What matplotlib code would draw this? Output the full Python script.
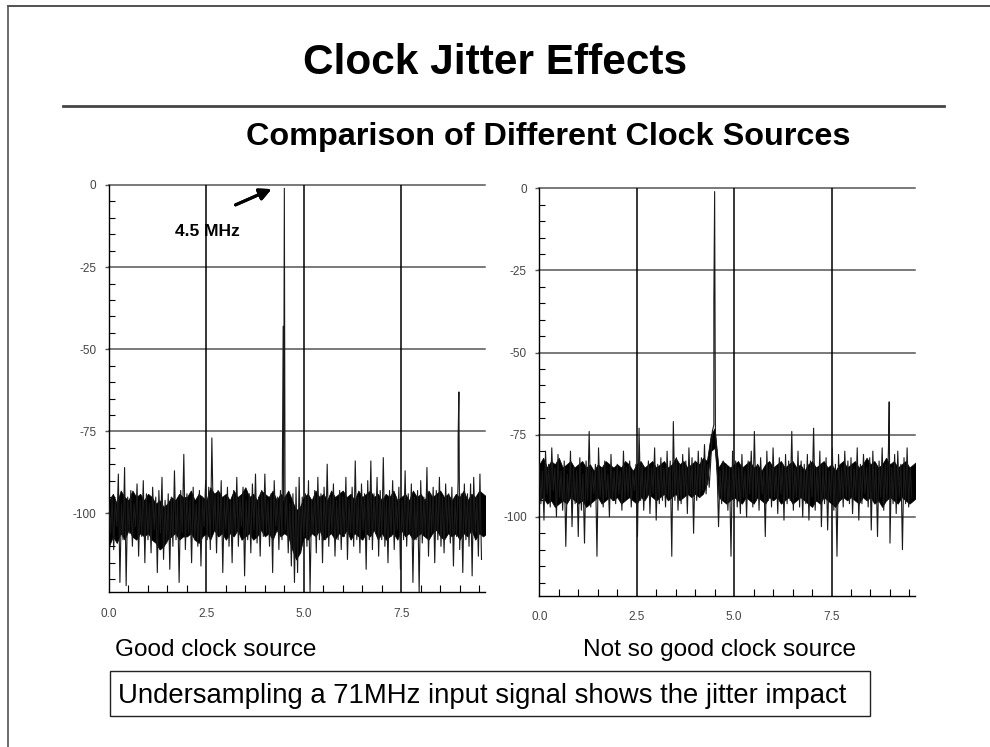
import numpy as np
import matplotlib.pyplot as plt
from matplotlib.ticker import MultipleLocator
from matplotlib.lines import Line2D
from matplotlib.patches import Rectangle

plt.rcParams["font.family"] = ["Liberation Sans", "DejaVu Sans"]

# FFT output (dBFS), one value every 0.04 MHz
good_noise = [
    -97, -106, -95, -111, -96, -104, -88, -121, -97, -108,
    -86, -122, -95, -106, -93, -110, -97, -104, -91, -113,
    -96, -107, -90, -115, -94, -108, -97, -112, -92, -105,
    -95, -118, -93, -106, -89, -114, -96, -109, -94, -117,
    -95, -110, -87, -108, -96, -121, -93, -106, -82, -111,
    -94, -106, -96, -115, -92, -108, -97, -110, -93, -116,
    -95, -104, -90, -108, -92, -111, -77, -105, -94, -112,
    -93, -107, -90, -118, -95, -105, -92, -110, -96, -115,
    -93, -106, -89, -110, -95, -104, -92, -119, -96, -108,
    -94, -112, -91, -105, -88, -109, -95, -113, -93, -107,
    -88, -106, -96, -110, -94, -118, -90, -104, -95, -111,
    -93, -108, -96, -105, -95, -112, -97, -116, -94, -121,
    -92, -118, -89, -112, -95, -107, -94, -110, -90, -124,
    -96, -106, -93, -112, -89, -108, -94, -115, -92, -108,
    -85, -110, -95, -106, -91, -113, -96, -108, -93, -111,
    -95, -107, -89, -114, -96, -106, -92, -110, -84, -108,
    -95, -112, -91, -105, -94, -117, -90, -108, -84, -111,
    -94, -106, -89, -113, -93, -108, -83, -110, -96, -115,
    -93, -107, -90, -111, -95, -105, -92, -117, -96, -108,
    -87, -110, -94, -106, -91, -121, -95, -108, -93, -124,
    -90, -109, -95, -107, -86, -113, -94, -106, -92, -115,
    -93, -108, -89, -110, -95, -112, -91, -106, -94, -109,
    -92, -116, -95, -107, -90, -111, -94, -118, -91, -108,
    -94, -110, -91, -119, -89, -106, -95, -113, -88, -114,
]
good_spur_freq = [4.47, 4.50, 8.96, 8.98]
good_spur_level = [-43, -1, -77, -63]

# solid black part of the noise floor, top and bottom edge every 0.1 MHz
good_core_hi = [
    -96, -94, -97, -93, -95, -96, -93, -95, -94, -96,
    -94, -95, -97, -96, -98, -97, -95, -96, -94, -95,
    -95, -93, -96, -94, -95, -96, -92, -94, -93, -95,
    -94, -96, -93, -95, -94, -92, -95, -94, -96, -93,
    -94, -95, -93, -96, -94, -95, -93, -96, -99, -98,
    -95, -94, -96, -93, -95, -94, -96, -93, -95, -94,
    -93, -95, -94, -96, -93, -95, -94, -93, -95, -94,
    -96, -94, -95, -93, -96, -95, -94, -96, -93, -95,
    -94, -96, -93, -95, -94, -93, -95, -94, -96, -94,
    -95, -93, -96, -94, -95, -93, -94, -95,
]
good_core_lo = [
    -110, -107, -109, -106, -108, -105, -107, -108, -106, -107,
    -106, -108, -109, -111, -110, -108, -107, -106, -108, -107,
    -107, -106, -108, -109, -107, -106, -108, -105, -107, -106,
    -108, -106, -107, -105, -108, -107, -106, -108, -107, -105,
    -107, -106, -108, -105, -107, -106, -107, -111, -114, -112,
    -107, -108, -106, -107, -105, -108, -107, -106, -108, -106,
    -107, -105, -108, -106, -107, -108, -106, -107, -105, -108,
    -106, -108, -107, -106, -108, -105, -107, -106, -108, -107,
    -106, -107, -108, -106, -105, -107, -108, -106, -107, -106,
    -108, -106, -107, -105, -108, -106, -107, -106,
]

poor_noise = [
    -84, -96, -86, -101, -80, -93, -84, -97, -79, -92,
    -85, -100, -81, -94, -86, -98, -83, -109, -87, -95,
    -80, -103, -85, -96, -86, -106, -82, -98, -87, -108,
    -83, -95, -74, -97, -86, -93, -84, -112, -79, -94,
    -85, -97, -83, -94, -87, -100, -81, -95, -86, -96,
    -84, -93, -86, -98, -80, -95, -85, -94, -83, -97,
    -86, -92, -84, -106, -73, -95, -84, -98, -86, -94,
    -83, -99, -85, -93, -79, -101, -84, -96, -82, -95,
    -85, -97, -80, -94, -83, -112, -71, -95, -82, -98,
    -84, -96, -81, -94, -83, -99, -79, -93, -82, -105,
    -83, -95, -80, -94, -82, -92, -78, -93, -84, -91,
    -83, -74, -72, -74, -84, -103, -86, -96, -83, -95,
    -84, -98, -85, -112, -80, -95, -83, -97, -85, -99,
    -81, -94, -86, -100, -83, -93, -80, -97, -74, -95,
    -84, -98, -82, -93, -86, -106, -80, -95, -84, -97,
    -79, -94, -85, -99, -82, -93, -84, -101, -81, -96,
    -83, -95, -74, -98, -85, -94, -80, -97, -83, -100,
    -84, -96, -81, -101, -83, -94, -73, -98, -85, -95,
    -80, -103, -84, -96, -82, -104, -86, -95, -79, -98,
    -84, -112, -81, -95, -85, -97, -80, -94, -83, -96,
    -82, -99, -85, -94, -79, -101, -84, -96, -81, -93,
    -85, -97, -82, -104, -80, -95, -84, -106, -83, -94,
    -79, -98, -84, -95, -80, -108, -85, -96, -81, -99,
    -80, -94, -84, -110, -82, -96, -79, -97, -85, -94,
]
poor_spur_freq = [4.48, 4.50, 8.98]
poor_spur_level = [-34, -1, -65]

poor_core_hi = [
    -84, -82, -85, -83, -84, -82, -85, -84, -83, -85,
    -84, -83, -85, -84, -86, -84, -85, -83, -84, -85,
    -84, -85, -83, -84, -86, -84, -83, -85, -84, -83,
    -85, -84, -83, -85, -84, -82, -84, -83, -85, -84,
    -83, -84, -82, -83, -75, -73, -85, -83, -84, -85,
    -84, -83, -85, -84, -83, -85, -84, -86, -84, -83,
    -85, -84, -83, -85, -84, -83, -85, -84, -86, -84,
    -83, -85, -84, -83, -85, -84, -86, -84, -83, -85,
    -84, -83, -85, -84, -82, -84, -83, -85, -84, -82,
    -84, -83, -85, -84, -83, -85, -84, -83,
]
poor_core_lo = [
    -95, -94, -96, -95, -97, -96, -95, -96, -94, -95,
    -96, -95, -97, -96, -95, -94, -96, -95, -94, -95,
    -94, -96, -95, -94, -95, -96, -94, -95, -93, -94,
    -95, -94, -93, -95, -94, -93, -95, -94, -93, -94,
    -93, -94, -93, -90, -80, -79, -94, -95, -96, -95,
    -94, -95, -96, -94, -95, -96, -94, -95, -96, -94,
    -95, -94, -96, -95, -94, -96, -95, -94, -95, -96,
    -97, -95, -96, -94, -95, -96, -97, -95, -94, -95,
    -94, -95, -96, -94, -95, -94, -96, -95, -97, -95,
    -94, -95, -96, -94, -95, -96, -95, -94,
]

bin_step = 0.04
core_step = 0.1
x_ticks = [0.0, 2.5, 5.0, 7.5]
x_labels = ["0.0", "2.5", "5.0", "7.5"]
y_ticks = [0, -25, -50, -75, -100]
y_labels = ["0", "-25", "-50", "-75", "-100"]

W, H = 990, 747
fig = plt.figure(figsize=(W / 100, H / 100), dpi=100)


def px(x, y):
    return x / W, 1 - y / H


def spectrum(noise, spur_f, spur_l):
    f = np.arange(len(noise)) * bin_step
    f = np.concatenate([f, spur_f])
    v = np.concatenate([noise, spur_l])
    order = np.argsort(f, kind="stable")
    return f[order], v[order]


def draw_panel(rect, noise, spur_f, spur_l, core_hi, core_lo):
    ax = fig.add_axes(rect)
    core_f = np.arange(len(core_hi)) * core_step
    ax.fill_between(core_f, core_lo, core_hi, color="black", lw=0.5, zorder=3)
    f, v = spectrum(noise, spur_f, spur_l)
    ax.plot(f, v, color="#1a1a1a", lw=0.8, zorder=3)
    ax.set_xlim(0, 9.65)
    ax.set_ylim(-124, 0)
    ax.set_xticks(x_ticks, x_labels)
    ax.set_yticks(y_ticks, y_labels)
    ax.xaxis.set_minor_locator(MultipleLocator(0.5))
    ax.yaxis.set_minor_locator(MultipleLocator(5))
    ax.tick_params(axis="x", which="major", length=0, pad=11, labelsize=8.5, labelcolor="#444")
    ax.tick_params(axis="x", which="minor", direction="in", length=5, width=0.8)
    ax.tick_params(axis="y", which="major", direction="out", length=3, width=1.0,
                   color="#555", pad=6, labelsize=8.5, labelcolor="#444")
    ax.tick_params(axis="y", which="minor", direction="in", length=4.5, width=0.8)
    for t in y_ticks:
        ax.axhline(t, color="#555", lw=1.1, zorder=1, clip_on=False)
    for t in x_ticks[1:]:
        ax.axvline(t, color="black", lw=1.1, zorder=2)
    for s in ["top", "right"]:
        ax.spines[s].set_visible(False)
    for s in ["left", "bottom"]:
        ax.spines[s].set_color("black")
        ax.spines[s].set_linewidth(1.0)
    return ax


ax1 = draw_panel([109 / W, 1 - 592.3 / H, 376 / W, 407.3 / H],
                 good_noise, good_spur_freq, good_spur_level,
                 good_core_hi, good_core_lo)
ax2 = draw_panel([539.3 / W, 1 - 595.7 / H, 376 / W, 407.4 / H],
                 poor_noise, poor_spur_freq, poor_spur_level,
                 poor_core_hi, poor_core_lo)

# slide frame and title rule
fig.add_artist(Line2D([8 / W, 1], [1 - 6 / H] * 2, color="#333", lw=1.2))
fig.add_artist(Line2D([8 / W] * 2, [1 - 6 / H, 0], color="#555", lw=1.2))
fig.add_artist(Line2D([63 / W, 944 / W], [1 - 106 / H] * 2, color="#444", lw=2))

fig.text(*px(495, 63), "Clock Jitter Effects", ha="center", va="center",
         fontsize=30.5, fontweight="bold")
fig.text(*px(548, 137), "Comparison of Different Clock Sources", ha="center",
         va="center", fontsize=23.3, fontweight="bold")

fig.text(*px(207, 232), "4.5 MHz", ha="center", va="center", fontsize=12.5,
         fontweight="bold")
fig.add_artist(plt.annotate("", xy=px(274, 188), xytext=px(233, 206),
                            xycoords="figure fraction", textcoords="figure fraction",
                            arrowprops=dict(arrowstyle="-|>,head_length=0.7,head_width=0.35",
                                            color="black", lw=2.2)))

fig.text(*px(115, 656), "Good clock source", ha="left", va="baseline", fontsize=17.6)
fig.text(*px(583, 656), "Not so good clock source", ha="left", va="baseline", fontsize=17.6)

fig.add_artist(Rectangle(px(110, 716), 760 / W, 45 / H, fill=False,
                         edgecolor="#222", lw=1.0, transform=fig.transFigure))
fig.text(*px(118, 703), "Undersampling a 71MHz input signal shows the jitter impact",
         ha="left", va="baseline", fontsize=19.8)

fig.savefig("out.png", dpi=100)
